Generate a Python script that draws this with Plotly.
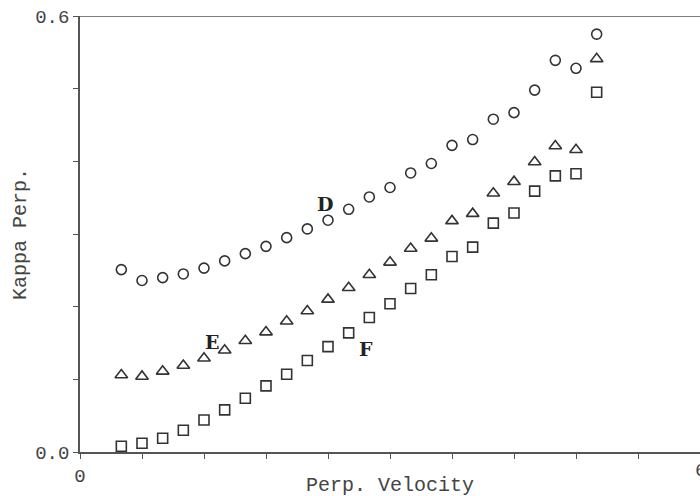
import plotly.graph_objects as go

# Data
x_vals = [0.4, 0.6, 0.8, 1.0, 1.2, 1.4, 1.6, 1.8, 2.0, 2.2, 2.4, 2.6,
          2.8, 3.0, 3.2, 3.4, 3.6, 3.8, 4.0, 4.2, 4.4, 4.6, 4.8, 5.0]
series_D = [0.251, 0.236, 0.240, 0.245, 0.253, 0.263, 0.273, 0.283, 0.295, 0.307, 0.319, 0.334,
            0.351, 0.364, 0.384, 0.397, 0.422, 0.430, 0.458, 0.467, 0.498, 0.539, 0.528, 0.575]
series_E = [0.106, 0.104, 0.111, 0.119, 0.129, 0.140, 0.153, 0.165, 0.180, 0.194, 0.210, 0.226,
            0.244, 0.261, 0.280, 0.294, 0.318, 0.328, 0.356, 0.372, 0.399, 0.421, 0.416, 0.541]
series_F = [0.008, 0.012, 0.019, 0.030, 0.044, 0.058, 0.074, 0.091, 0.107, 0.126, 0.145, 0.164,
            0.185, 0.204, 0.225, 0.244, 0.269, 0.282, 0.315, 0.329, 0.359, 0.380, 0.383, 0.495]
series_names = ["D", "E", "F"]
label_pos_x = [2.37, 1.28, 2.77]
label_pos_y = [0.341, 0.151, 0.142]
x_tickvals = [0, 0.6, 1.2, 1.8, 2.4, 3.0, 3.6, 4.2, 4.8, 5.4, 6.0]
x_ticktext = ["0", "", "", "", "", "", "", "", "", "", "6"]
y_tickvals = [0, 0.1, 0.2, 0.3, 0.4, 0.5, 0.6]
y_ticktext = ["0.0", "", "", "", "", "", "0.6"]
x_title = "Perp. Velocity"
y_title = "Kappa Perp."

INK = "#333333"
TXT = "#444444"
FONT = "Liberation Mono, Courier New, monospace"

fig = go.Figure()
for name, ys, sym in zip(series_names, [series_D, series_E, series_F],
                         ["circle-open", "triangle-up-open", "square-open"]):
    fig.add_trace(go.Scatter(
        x=x_vals, y=ys, mode="markers", name=name, showlegend=False,
        marker=dict(symbol=sym, size=10 if sym != "triangle-up-open" else 11,
                    color=INK, line=dict(color=INK, width=1.6)),
        cliponaxis=False,
    ))

for name, lx, ly in zip(series_names, label_pos_x, label_pos_y):
    fig.add_annotation(x=lx, y=ly, text="<b>%s</b>" % name, showarrow=False,
                       font=dict(family="DejaVu Serif, serif", size=19, color="#222222"))

# right-most x tick label (partly beyond the page edge, as in the reference)
fig.add_annotation(x=x_tickvals[-1], xref="x", y=0, yref="paper", yshift=-19,
                   text=x_ticktext[-1], showarrow=False, xanchor="center", yanchor="middle",
                   font=dict(family=FONT, size=19, color=TXT))
# axis titles
fig.add_annotation(x=0.5, xref="paper", y=0, yref="paper", yshift=-33,
                   text=x_title, showarrow=False, xanchor="center", yanchor="middle",
                   font=dict(family=FONT, size=20, color=TXT))
fig.add_annotation(x=0, xref="paper", y=0.5, yref="paper", xshift=-60,
                   text=y_title, showarrow=False, textangle=-90,
                   xanchor="center", yanchor="middle",
                   font=dict(family=FONT, size=20, color=TXT))

fig.add_shape(type="line", xref="paper", yref="y", x0=0, x1=1, y0=0.6, y1=0.6,
              line=dict(color="#555555", width=1.5))

fig.update_layout(
    width=700, height=496,
    margin=dict(l=80, r=0, t=16, b=44),
    paper_bgcolor="white", plot_bgcolor="white",
    font=dict(family=FONT, size=19, color=TXT),
    xaxis=dict(range=[0, 6], tickvals=x_tickvals, ticktext=x_ticktext,
               ticks="outside", ticklen=5, tickwidth=1.3, tickcolor="#555555",
               showline=True, linecolor="#555555", linewidth=1.5,
               showgrid=False, zeroline=False, automargin=False),
    yaxis=dict(range=[0, 0.6], tickvals=y_tickvals, ticktext=y_ticktext,
               ticks="outside", ticklen=5, tickwidth=1.3, tickcolor="#555555",
               showline=True, linecolor="#555555", linewidth=1.5,
               showgrid=False, zeroline=False, automargin=False),
)

fig.write_html("out.html")
